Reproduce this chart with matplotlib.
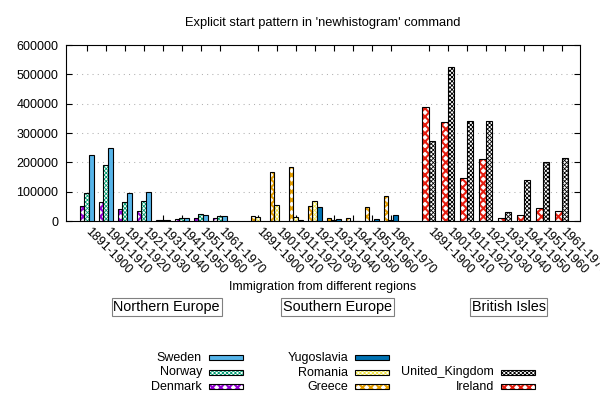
import numpy as np
import matplotlib
matplotlib.use("Agg")
import matplotlib.pyplot as plt
from matplotlib.patches import Rectangle

plt.rcParams["font.family"] = ["Liberation Sans", "DejaVu Sans"]

# immigration counts per decade
periods = ["1891-1900", "1901-1910", "1911-1920", "1921-1930",
           "1931-1940", "1941-1950", "1951-1960", "1961-1970"]

denmark = [50231, 65285, 41983, 32430, 2559, 5393, 10984, 9201]
norway = [95015, 190505, 66395, 68531, 4740, 10100, 22935, 15484]
sweden = [226266, 249534, 95074, 97249, 3960, 10665, 21697, 17116]
greece = [15979, 167519, 184201, 51084, 9119, 8973, 47608, 85969]
romania = [12750, 53008, 13311, 67646, 3871, 1076, 1039, 3531]
yugoslavia = [np.nan, np.nan, 1888, 49064, 5835, 1576, 8225, 20381]
ireland = [388416, 339065, 146181, 211234, 10973, 19789, 43362, 32966]
united_kingdom = [271538, 525950, 341408, 339570, 31572, 139306, 202824, 213822]

groups = ["Northern Europe", "Southern Europe", "British Isles"]
group_series = [
    [("Denmark", denmark), ("Norway", norway), ("Sweden", sweden)],
    [("Greece", greece), ("Romania", romania), ("Yugoslavia", yugoslavia)],
    [("Ireland", ireland), ("United_Kingdom", united_kingdom)],
]

colors = {"Denmark": "#9400D3", "Norway": "#009E73", "Sweden": "#56B4E9",
          "Greece": "#E69F00", "Romania": "#F0E442", "Yugoslavia": "#0072B2",
          "Ireland": "#E51E10", "United_Kingdom": "#000000"}
# (hatch, hatch linewidth); None = solid fill
hatches = {"Denmark": ("xxxx", 1.5), "Norway": ("xxxxxxxx", 0.6), "Sweden": None,
           "Greece": ("xxxx", 1.5), "Romania": ("xxxxxxxx", 0.6), "Yugoslavia": None,
           "Ireland": ("xxxx", 1.5), "United_Kingdom": ("xxxxxxxx", 0.6)}


def set_hlw(artists, lw):
    for a in artists:
        if hasattr(a, "set_hatch_linewidth"):
            a.set_hatch_linewidth(lw)


W, H = 600, 400
fig = plt.figure(figsize=(6, 4), dpi=100)
ax = fig.add_axes([66 / W, 1 - 221 / H, (579.5 - 66) / W, 176 / H])

x = np.arange(len(periods))
tick_pos, tick_lab = [], []
start = 0
for g, series in enumerate(group_series):
    n = len(series)
    w = 1.0 / (n + 1)
    pos = start + x
    for i, (name, vals) in enumerate(series):
        xi = pos + (i - (n - 1) / 2) * w
        h = hatches[name]
        if h:
            with plt.rc_context({"hatch.linewidth": h[1]}):
                bars = ax.bar(xi, vals, w, color="white", edgecolor=colors[name],
                              hatch=h[0], linewidth=0, zorder=2)
            set_hlw(bars, h[1])
            ax.bar(xi, vals, w, fill=False, edgecolor="black",
                   linewidth=0.8, zorder=3)
        else:
            ax.bar(xi, vals, w, color=colors[name], edgecolor="black",
                   linewidth=0.8, zorder=3)
    ax.text(start + (len(periods) - 1) / 2 + 0.7, -0.4886, groups[g],
            transform=ax.get_xaxis_transform(), ha="center", va="center",
            fontsize=10.4,
            bbox=dict(boxstyle="square,pad=0.12", fc="white", ec="#808080", lw=0.8))
    tick_pos.extend(pos)
    tick_lab.extend(periods)
    start += len(periods) + 1

ax.set_xlim(-1.09, 25.93)
ax.set_ylim(0, 600000)
ax.set_yticks(range(0, 600001, 100000))
ax.ticklabel_format(axis="y", style="plain")
ax.set_xticks(tick_pos)
ax.set_xticklabels(tick_lab, rotation=-45, ha="left", va="center",
                   rotation_mode="anchor", fontsize=9)
ax.tick_params(axis="x", direction="in", length=4.3, top=True, pad=6.5)
ax.tick_params(axis="y", direction="in", length=4.3, right=True,
               labelsize=9, pad=5.5)
ax.yaxis.grid(True, color="#b0b0b0", linestyle=(0, (1, 4)), linewidth=0.75)
ax.set_axisbelow(True)
for sp in ax.spines.values():
    sp.set_linewidth(0.8)

ax.set_xlabel("Immigration from different regions", fontsize=9)
ax.xaxis.label.set_va("center")
ax.xaxis.set_label_coords(0.5, (221 - 287.3) / 176)

fig.text(322.5 / W, 1 - 23 / H, "Explicit start pattern in 'newhistogram' command",
         ha="center", va="center", fontsize=9.3)

# key, filled column by column
legend_cols = [["Sweden", "Norway", "Denmark"],
               ["Yugoslavia", "Romania", "Greece"],
               [None, "United_Kingdom", "Ireland"]]
for c, col in enumerate(legend_cols):
    for r, name in enumerate(col):
        if name is None:
            continue
        y = 358.3 + 14.2 * r
        fig.text((202 + 146 * c) / W, 1 - y / H, name, ha="right", va="center",
                 fontsize=9)
        x0 = (209 + 146 * c) / W
        y0 = 1 - (y + 2) / H
        sw, sh = 34 / W, 5 / H
        h = hatches[name]
        if h:
            with plt.rc_context({"hatch.linewidth": h[1]}):
                sq = Rectangle((x0, y0), sw, sh, transform=fig.transFigure,
                               facecolor="white", edgecolor=colors[name],
                               hatch=h[0], linewidth=0)
            set_hlw([sq], h[1])
            fig.add_artist(sq)
            fig.add_artist(Rectangle((x0, y0), sw, sh, transform=fig.transFigure,
                                     fill=False, edgecolor="black", linewidth=0.8))
        else:
            fig.add_artist(Rectangle((x0, y0), sw, sh, transform=fig.transFigure,
                                     facecolor=colors[name], edgecolor="black",
                                     linewidth=0.8))

fig.savefig("out.png", dpi=100)
